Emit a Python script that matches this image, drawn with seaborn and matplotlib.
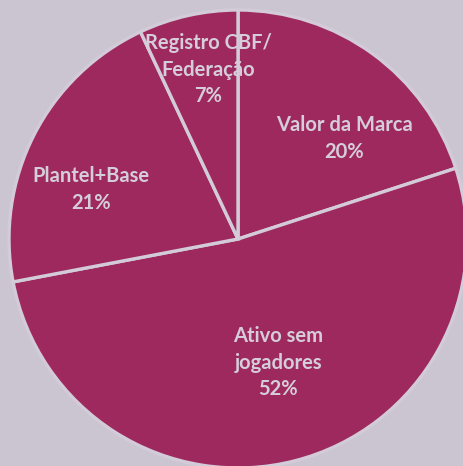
import matplotlib
matplotlib.use('Agg')
import matplotlib.pyplot as plt
import seaborn as sns

categorias = ['Valor da Marca', 'Ativo sem\njogadores', 'Plantel+Base', 'Registro CBF/\nFederação']
valores = [20, 52, 21, 7]

# posição dos rótulos (em raios, centro da pizza = 0,0)
pos_rotulos = [(0.463, 0.44), (0.175, -0.54), (-0.643, 0.217), (-0.131, 0.74)]

sns.set_style('white')
plt.rcParams['font.family'] = ['Lato', 'DejaVu Sans']

fundo = '#cbc4d1'
cor_fatia = '#9e295e'
cor_texto = '#d6cdda'

fig = plt.figure(figsize=(4.63, 4.66), dpi=100)
fig.patch.set_facecolor(fundo)
ax = fig.add_axes([0, 0, 1, 1])
ax.set_facecolor(fundo)

ax.pie(valores, startangle=90, counterclock=False, radius=1,
       colors=[cor_fatia] * len(valores),
       wedgeprops=dict(edgecolor='#d3ccd8', linewidth=2.4))

for cat, val, (x, y) in zip(categorias, valores, pos_rotulos):
    ax.text(x, y, f'{cat}\n{val}%', ha='center', va='center', color=cor_texto,
            fontsize=14.5, fontweight='bold', linespacing=1.42)

ax.set_xlim(-238 / 229, (463 - 238) / 229)
ax.set_ylim(-(466 - 239) / 229, 239 / 229)
ax.set_aspect('auto')
ax.axis('off')

fig.savefig('out.png', dpi=100, facecolor=fundo)
